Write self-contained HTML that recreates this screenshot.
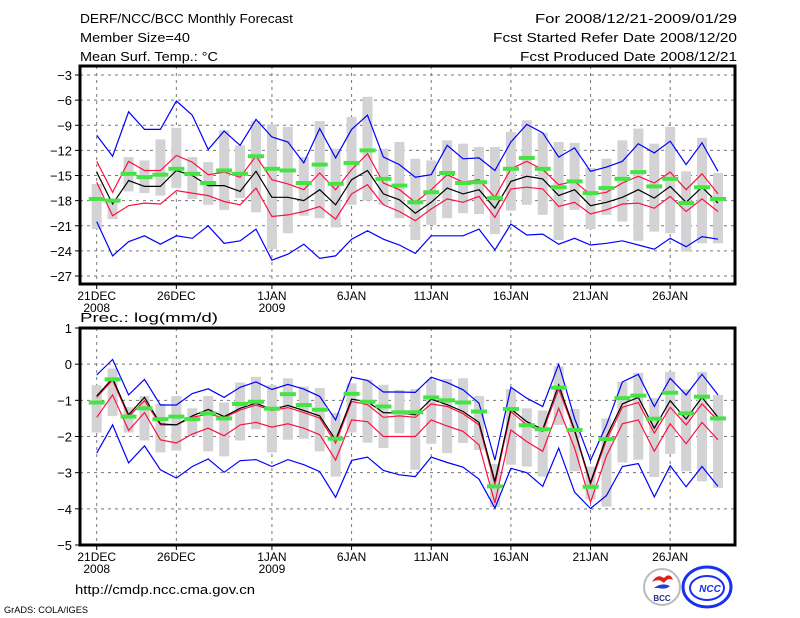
<!DOCTYPE html>
<html><head><meta charset="utf-8"><title>DERF/NCC/BCC Monthly Forecast</title>
<style>html,body{margin:0;padding:0;background:#fff}svg{display:block}text{font-family:"Liberation Sans",sans-serif;fill:#000}</style></head>
<body>
<svg id="chart" width="800" height="618" viewBox="0 0 800 618" xmlns="http://www.w3.org/2000/svg">
<g font-size="13">
<text x="80" y="23" textLength="213" lengthAdjust="spacingAndGlyphs">DERF/NCC/BCC Monthly Forecast</text>
<text x="80" y="42" textLength="110" lengthAdjust="spacingAndGlyphs">Member Size=40</text>
<text x="80" y="61" textLength="138" lengthAdjust="spacingAndGlyphs">Mean Surf. Temp.: °C</text>
<text x="737" y="23" text-anchor="end" textLength="202" lengthAdjust="spacingAndGlyphs">For 2008/12/21-2009/01/29</text>
<text x="737" y="42" text-anchor="end" textLength="244" lengthAdjust="spacingAndGlyphs">Fcst Started Refer Date 2008/12/20</text>
<text x="737" y="61" text-anchor="end" textLength="217" lengthAdjust="spacingAndGlyphs">Fcst Produced Date 2008/12/21</text>
<text x="80" y="322" textLength="138" lengthAdjust="spacingAndGlyphs">Prec.: log(mm/d)</text>
<text x="75" y="594" textLength="180" lengthAdjust="spacingAndGlyphs">http://cmdp.ncc.cma.gov.cn</text>
<text x="4" y="613" font-size="9" textLength="84" lengthAdjust="spacingAndGlyphs">GrADS: COLA/IGES</text>
</g>
<g>
<circle cx="662" cy="587" r="18" fill="#fff" stroke="#bbb" stroke-width="2"/>
<path d="M652 582 q5 -9 12 -4 q6 -6 9 2 q-5 -3 -9 3 q-5 -5 -12 -1z" fill="#e02020"/>
<path d="M654 588 q8 -6 16 -2 q-4 4 -12 2z" fill="#2040d0"/>
<text x="662" y="601" font-size="8" text-anchor="middle" font-family="Liberation Serif,serif" font-weight="bold" fill="#203080" style="fill:#203080">BCC</text>
</g>
<g>
<ellipse cx="707" cy="587" rx="24" ry="20" fill="none" stroke="#1830f0" stroke-width="3"/>
<ellipse cx="707" cy="588" rx="17" ry="12" fill="none" stroke="#1830f0" stroke-width="2"/>
<text x="710" y="592" font-size="10" font-style="italic" font-weight="bold" text-anchor="middle" style="fill:#1830f0">NCC</text>
</g>
<g id="p1"></g>
<g id="p2"></g>
</svg>
<script>
const days = Array.from({length:40},(_,i)=>i);
const dateTicks = [0,5,11,16,21,26,31,36];
const dateLabels = ["21DEC","26DEC","1JAN","6JAN","11JAN","16JAN","21JAN","26JAN"];
const yearLabels = ["2008","","2009","","","","",""];

const tTicks = [-3,-6,-9,-12,-15,-18,-21,-24,-27];
const tBlueUp = [-10.2,-12.7,-7.4,-9.5,-9.5,-6.1,-7.8,-11.9,-9.7,-11.4,-8.3,-10.4,-11,-13.5,-9.4,-12.9,-9.5,-7.8,-12.8,-13.7,-15.2,-14.9,-11.4,-13,-12.9,-14.4,-11,-8.9,-9.9,-12.8,-11.7,-14.5,-14,-13.3,-11.2,-12.3,-10.9,-13.7,-11.1,-14.5];
const tRedUp = [-13.3,-17,-13.3,-14.4,-14.4,-12.6,-13.4,-14.9,-14.6,-15.2,-12.7,-15.5,-16,-16.7,-14.7,-16.7,-14.3,-12.4,-15.9,-16.7,-18.2,-16.7,-14.9,-15.8,-15.5,-17.6,-14.2,-13.3,-14.3,-16.1,-15.7,-17.3,-17,-15.9,-15.1,-15.9,-14.6,-16.7,-14.8,-17.2];
const tMean = [-14.6,-18.4,-15.6,-16.3,-16.3,-14.4,-15,-16.2,-16.2,-16.9,-14.5,-17.6,-17.6,-18,-16.7,-18.5,-15.5,-14.4,-17.2,-17.9,-19.5,-18.2,-16.5,-17.2,-16.7,-18.9,-15.7,-15.1,-15.4,-17.4,-16.7,-18.6,-18.2,-17.6,-16.7,-17.7,-16.3,-18.2,-16.4,-18.3];
const tRedLo = [-15.8,-19.8,-18.6,-18.3,-18.4,-16.8,-17.1,-17.4,-18.1,-18.5,-16.5,-19.9,-19.7,-19.3,-18.7,-20.2,-17.2,-16.1,-18.5,-19.3,-20.4,-19,-17.8,-18.2,-17.5,-20,-16.6,-16.4,-16.6,-18.7,-18.2,-19.6,-19.1,-18.4,-18.3,-18.9,-17.5,-19.3,-17.8,-19.3];
const tBlueLo = [-20.5,-24.6,-22.9,-22.2,-23.2,-22.2,-22.5,-21,-23.1,-22.8,-21.4,-25.1,-24.4,-23.2,-24.9,-24.6,-22.6,-21.6,-22.6,-23.3,-24.3,-22.2,-22.2,-22.2,-21.4,-23.9,-20.8,-22.1,-22,-23.2,-22.5,-23.3,-23.1,-22.8,-23.3,-23.8,-22.5,-23.5,-22.3,-22.6];
const tObs = [-17.8,-18,-14.8,-15.2,-14.9,-14.2,-14.8,-15.9,-14.4,-14.8,-12.7,-14.2,-14.4,-15.9,-13.7,-16,-13.5,-12,-15.4,-16.2,-18.2,-17,-14.7,-15.9,-15.8,-17.7,-14.2,-12.9,-14.2,-16.4,-15.7,-17.1,-16.5,-15.4,-14.6,-16.3,-15.4,-18.3,-16.4,-17.8];
const tBoxHi = [-16,-17.8,-12.8,-13.2,-10.7,-9.3,-12.8,-13.4,-9.6,-11.4,-8.5,-8.9,-9.2,-12.8,-8.5,-11.8,-8,-5.6,-11.8,-11,-13,-13.2,-10.8,-11.2,-11.6,-11.6,-9.8,-8.4,-9.9,-11,-11.1,-14.1,-13,-10.8,-9.4,-11.2,-9.2,-14.5,-10.5,-14.7];
const tBoxLo = [-21.4,-20.2,-16.9,-17.1,-17.4,-16.5,-17.8,-18.5,-19.1,-17.7,-19.4,-23.8,-21.9,-19.8,-20.1,-21.2,-18.5,-18,-18.5,-20.1,-22.7,-20.9,-20.1,-19.5,-19.6,-22,-19.2,-18.5,-19.7,-22.7,-19.1,-21.4,-19.7,-20.5,-22.8,-21.7,-21.9,-24.1,-23.1,-23.1];

const pTicks = [1,0,-1,-2,-3,-4,-5];
const pBlueUp = [-0.3,0.13,-0.85,-0.42,-1.13,-1.13,-0.81,-0.68,-0.92,-0.64,-0.49,-0.7,-0.56,-0.69,-0.89,-1.54,-0.36,-0.45,-0.77,-0.77,-0.78,-0.36,-0.51,-0.71,-1.08,-2.65,-0.64,-0.94,-1.17,0,-1.5,-2.66,-1.68,-0.49,-0.28,-1.17,-0.39,-0.85,-0.28,-0.85];
const pRedUp = [-0.92,-0.44,-1.45,-1.01,-1.68,-1.68,-1.47,-1.38,-1.48,-1.27,-1.13,-1.28,-1.2,-1.34,-1.49,-2.18,-1.03,-1.12,-1.47,-1.43,-1.47,-1.1,-1.17,-1.37,-1.68,-3.33,-1.31,-1.68,-1.86,-0.69,-1.86,-3.33,-2.09,-1.19,-1.06,-1.91,-1.19,-1.68,-1.1,-1.56];
const pMean = [-0.88,-0.39,-1.4,-0.92,-1.65,-1.68,-1.43,-1.25,-1.45,-1.22,-1.08,-1.25,-1.14,-1.28,-1.43,-2.09,-0.97,-1.04,-1.34,-1.35,-1.4,-0.97,-1.12,-1.31,-1.61,-3.24,-1.24,-1.59,-1.8,-0.57,-1.82,-3.27,-2,-1.1,-0.92,-1.77,-1.01,-1.52,-0.92,-1.47];
const pRedLo = [-1.47,-0.85,-1.83,-1.34,-2.09,-2.18,-1.93,-1.77,-1.98,-1.68,-1.61,-1.74,-1.65,-1.77,-1.95,-2.65,-1.54,-1.59,-2,-2,-2,-1.54,-1.71,-1.86,-2.23,-3.84,-1.82,-2.14,-2.41,-1.22,-2.32,-3.82,-2.53,-1.65,-1.54,-2.41,-1.65,-2.2,-1.61,-2.09];
const pBlueLo = [-2.46,-1.68,-2.73,-2.26,-2.92,-3.15,-2.83,-2.62,-2.99,-2.67,-2.64,-2.83,-2.64,-2.78,-2.97,-3.68,-2.66,-2.57,-2.94,-3.06,-3.11,-2.57,-2.72,-2.85,-3.18,-3.98,-2.88,-3,-3.38,-2.32,-3.54,-3.99,-3.63,-2.83,-2.75,-3.67,-2.81,-3.39,-2.83,-3.38];
const pObs = [-1.06,-0.42,-1.45,-1.22,-1.52,-1.45,-1.52,-1.36,-1.5,-1.1,-1.04,-1.23,-0.83,-1.13,-1.26,-2.06,-0.82,-1.04,-1.17,-1.33,-1.33,-0.92,-1,-1.06,-1.31,-3.38,-1.24,-1.69,-1.8,-0.65,-1.82,-3.39,-2.07,-0.94,-0.87,-1.51,-0.79,-1.36,-0.9,-1.5];
const pBoxHi = [-0.58,-0.12,-1.19,-0.88,-1.1,-0.88,-1.22,-0.88,-1.06,-0.51,-0.35,-0.58,-0.39,-0.62,-0.66,-1.35,-0.53,-0.43,-0.57,-0.71,-0.69,-0.43,-0.41,-0.39,-0.88,-2.76,-0.69,-1.22,-1.28,-0.06,-1.24,-2.83,-1.5,-0.49,-0.24,-0.94,-0.21,-0.7,-0.21,-0.85];
const pBoxLo = [-1.89,-1.43,-1.89,-2.11,-2.44,-2.39,-1.98,-2.41,-2.55,-2.11,-1.8,-2.44,-2.09,-2.06,-2.41,-3.11,-1.89,-2.17,-2.32,-1.91,-2.92,-2.2,-2.46,-2.18,-2.37,-3.95,-2.78,-2.83,-3.11,-1.68,-2.96,-3.74,-3.94,-2.72,-2.64,-3.12,-2.48,-2.96,-3.24,-3.42];

const NS='http://www.w3.org/2000/svg';
function mk(parent, tag, attrs){const e=document.createElementNS(NS,tag);for(const k in attrs)e.setAttribute(k,attrs[k]);parent.appendChild(e);return e;}
const X0=96.7, DX=15.93, L=80, R=735;
function xs(d){return X0+d*DX;}

function panel(g, top, bottom, vTop, vBot, ticks, tickFmt, series){
  const ys=v=>top+(vTop-v)/(vTop-vBot)*(bottom-top);
  // grid
  ticks.forEach(t=>{
    const y=ys(t);
    if(y>top+2&&y<bottom-2){const gl=mk(g,'line',{x1:L,x2:R,y1:y,y2:y,stroke:'#777','stroke-dasharray':'3,4','stroke-width':1});
    
    }
    const tk=mk(g,'line',{x1:L-5,x2:L,y1:y,y2:y,stroke:'#000','stroke-width':1});
    
    
    const tx=mk(g,'text',{x:L-8,y:y+5,'text-anchor':'end','font-size':13});
    tx.textContent=tickFmt(t).replace('-','\u2212');
    
    
  });
  dateTicks.forEach((d,i)=>{
    const x=xs(d);
    const gl=mk(g,'line',{x1:x,x2:x,y1:top,y2:bottom,stroke:'#777','stroke-dasharray':'3,4','stroke-width':1});
    
    
    const tk=mk(g,'line',{x1:x,x2:x,y1:bottom,y2:bottom+5,stroke:'#000'});
    
    
    const tx=mk(g,'text',{x:x,y:bottom+16,'text-anchor':'middle','font-size':12});
    tx.textContent=dateLabels[i];
    
    
    if(yearLabels[i]){const yt=mk(g,'text',{x:x,y:bottom+28,'text-anchor':'middle','font-size':12});
    yt.textContent=yearLabels[i];
    
    }
  });
  // boxes
  days.forEach(d=>{
    const y1=ys(series.hi[d]), y2=ys(series.lo[d]);
    const b=mk(g,'rect',{x:xs(d)-5,y:y1,width:10,height:y2-y1,fill:'#d3d3d6'});
    
    
  });
  const lines=[[series.bu,'#0000ff','blue-upper-line'],[series.bl,'#0000ff','blue-lower-line'],[series.ru,'#ff1040','red-upper-line'],[series.rl,'#ff1040','red-lower-line'],[series.m,'#000','ensemble-mean-line']];
  lines.forEach(([arr,c,n])=>{
    const p=mk(g,'polyline',{points:days.map(d=>xs(d).toFixed(1)+','+ys(arr[d]).toFixed(1)).join(' '),fill:'none',stroke:c,'stroke-width':1.2});
    
    
  });
  days.forEach(d=>{
    const y=ys(series.o[d]);
    const r=mk(g,'rect',{x:xs(d)-8,y:y-2,width:16,height:4,fill:'#44e444'});
    
    
  });
  const f=mk(g,'rect',{x:L,y:top,width:R-L,height:bottom-top,fill:'none',stroke:'#000','stroke-width':3});
  
  
}
// top: -3 at y75, -27 at y276 ; frame 66..284
const tScale=(276-75)/24;
panel(document.getElementById('p1'),66,284,-3+(75-66)/tScale,-3-(284-75)/tScale,tTicks,t=>String(t),
 {hi:tBoxHi,lo:tBoxLo,bu:tBlueUp,bl:tBlueLo,ru:tRedUp,rl:tRedLo,m:tMean,o:tObs});
panel(document.getElementById('p2'),328,545,1,-5,pTicks,t=>String(t),
 {hi:pBoxHi,lo:pBoxLo,bu:pBlueUp,bl:pBlueLo,ru:pRedUp,rl:pRedLo,m:pMean,o:pObs});
</script>
</body></html>
